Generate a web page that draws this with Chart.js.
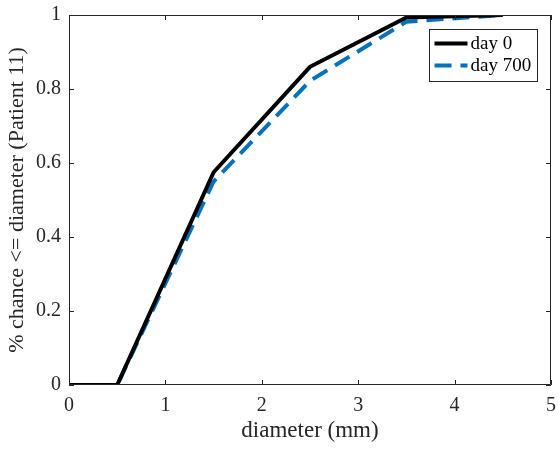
<!DOCTYPE html>
<html>
<head>
<meta charset="utf-8">
<script src="https://cdn.jsdelivr.net/npm/chart.js@4.4.1/dist/chart.umd.min.js"></script>
<style>
  html, body { margin: 0; padding: 0; background: #fff; }
  #wrap { width: 558px; height: 449px; }
</style>
</head>
<body>
<div id="wrap"><canvas id="cdf"></canvas></div>
<script>
// cumulative size distribution, patient 11
const diameters = [0, 0.5, 1.5, 2.5, 3.5, 4.5];
const day0 = [0, 0, 0.575, 0.86, 0.993, 1.0];
const day700 = [0, 0, 0.55, 0.822, 0.982, 1.0];
const xTicks = [0, 1, 2, 3, 4, 5];
const yTicks = [0, 0.2, 0.4, 0.6, 0.8, 1];
const seriesNames = ['day 0', 'day 700'];

const serif = '"Liberation Serif", "Times New Roman", serif';
const axisGray = '#262626';

function toPoints(ys) {
  return diameters.map((d, i) => ({ x: d, y: ys[i] }));
}

// box, inward ticks on all four sides, and legend
const matlabAxes = {
  id: 'matlabAxes',
  afterDatasetsDraw(chart) {
    const { ctx, chartArea: a, scales } = chart;
    const xs = scales.x, ys = scales.y;
    ctx.save();
    ctx.strokeStyle = axisGray;
    ctx.lineWidth = 1;
    ctx.beginPath();
    ctx.rect(a.left + 0.5, a.top + 0.5, a.right - a.left - 1, a.bottom - a.top - 1);
    ctx.stroke();
    const t = 5;
    ctx.beginPath();
    xTicks.forEach(v => {
      const px = Math.round(xs.getPixelForValue(v)) + 0.5;
      ctx.moveTo(px, a.bottom); ctx.lineTo(px, a.bottom - t);
      ctx.moveTo(px, a.top); ctx.lineTo(px, a.top + t);
    });
    yTicks.forEach(v => {
      const py = Math.round(ys.getPixelForValue(v)) + 0.5;
      ctx.moveTo(a.left, py); ctx.lineTo(a.left + t, py);
      ctx.moveTo(a.right, py); ctx.lineTo(a.right - t, py);
    });
    ctx.stroke();

    // legend
    const lx = 429.5, ly = 29.5, lw = 108, lh = 52;
    ctx.fillStyle = '#fff';
    ctx.fillRect(lx, ly, lw, lh);
    ctx.strokeStyle = '#262626';
    ctx.lineWidth = 1;
    ctx.strokeRect(lx, ly, lw, lh);
    ctx.font = '19px ' + serif;
    ctx.textBaseline = 'middle';
    chart.data.datasets.forEach((ds, i) => {
      const y = ly + 14 + i * 22;
      ctx.strokeStyle = ds.borderColor;
      ctx.lineWidth = ds.borderWidth;
      ctx.setLineDash(ds.borderDash || []);
      ctx.beginPath();
      ctx.moveTo(lx + 5, y); ctx.lineTo(lx + 38, y);
      ctx.stroke();
      ctx.setLineDash([]);
      ctx.fillStyle = '#000';
      ctx.fillText(ds.label, lx + 41, y + 1);
    });
    ctx.restore();
  }
};

new Chart(document.getElementById('cdf'), {
  type: 'line',
  data: {
    datasets: [
      {
        label: seriesNames[0],
        data: toPoints(day0),
        borderColor: '#000000',
        borderWidth: 4,
        pointRadius: 0,
        tension: 0,
        fill: false
      },
      {
        label: seriesNames[1],
        data: toPoints(day700),
        borderColor: '#0072BD',
        borderWidth: 4,
        borderDash: [17, 9],
        pointRadius: 0,
        tension: 0,
        fill: false
      }
    ]
  },
  options: {
    responsive: true,
    maintainAspectRatio: false,
    animation: false,
    layout: { padding: { top: 15, right: 7, left: 0, bottom: 0 } },
    plugins: {
      legend: { display: false },
      tooltip: { enabled: false }
    },
    scales: {
      x: {
        type: 'linear',
        min: 0,
        max: 5,
        afterBuildTicks: s => { s.ticks = xTicks.map(v => ({ value: v })); },
        afterFit: s => { s.height = 64; s.paddingLeft = 0; s.paddingRight = 0; },
        grid: { display: false, drawTicks: false },
        border: { display: false },
        ticks: {
          color: '#262626',
          font: { family: serif, size: 20 },
          padding: 9,
          maxRotation: 0
        },
        title: {
          display: true,
          text: 'diameter (mm)',
          color: '#262626',
          font: { family: serif, size: 23 },
          padding: { top: 5 }
        }
      },
      y: {
        type: 'linear',
        min: 0,
        max: 1,
        afterBuildTicks: s => { s.ticks = yTicks.map(v => ({ value: v })); },
        afterFit: s => { s.width = 69; s.paddingTop = 0; s.paddingBottom = 0; },
        grid: { display: false, drawTicks: false },
        border: { display: false },
        ticks: {
          color: '#262626',
          font: { family: serif, size: 20 },
          padding: 8,
          callback: v => String(v)
        },
        title: {
          display: true,
          text: '% chance <= diameter (Patient 11)',
          color: '#262626',
          font: { family: serif, size: 22 },
          padding: { bottom: 2 }
        }
      }
    }
  },
  plugins: [matlabAxes]
});
</script>
</body>
</html>
